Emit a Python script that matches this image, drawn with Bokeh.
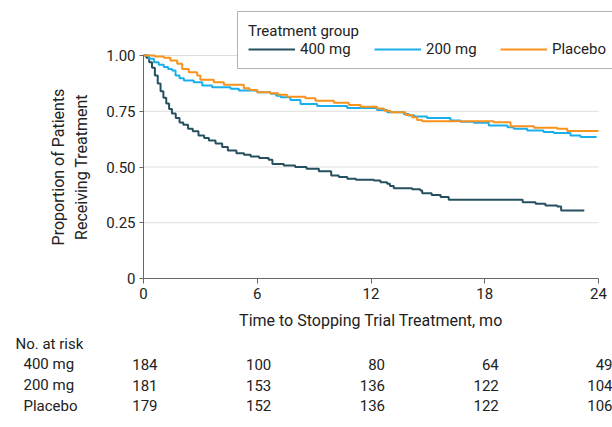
from bokeh.plotting import figure
from bokeh.models import Range1d, FixedTicker, Legend, LegendItem, ColumnDataSource
from bokeh.embed import file_html
from bokeh.resources import INLINE
from bokeh.core.properties import value

# ---- data ----
groups = ["400 mg", "200 mg", "Placebo"]
colors = ["#26505f", "#1aafeb", "#f7931e"]

t_400 = [0, 0.15, 0.3, 0.45, 0.6, 0.75, 0.9, 1.05, 1.2, 1.35, 1.5, 1.7, 1.9, 2.1, 2.35,
         2.6, 2.9, 3.2, 3.45, 3.8, 4.15, 4.45, 4.9, 5.3, 5.65, 6.1, 6.6, 6.8, 7.4, 8.0,
         8.6, 9.25, 9.9, 10.3, 10.75, 11.2, 12.15, 12.5, 12.85, 13.0, 13.2, 14.17, 14.6,
         14.7, 15.2, 15.67, 16.1, 20.0, 20.68, 21.2, 21.82, 22.03, 23.25]
s_400 = [1.0, 0.99, 0.97, 0.945, 0.91, 0.875, 0.84, 0.81, 0.785, 0.76, 0.74, 0.72, 0.70,
         0.69, 0.672, 0.66, 0.641, 0.63, 0.619, 0.605, 0.59, 0.574, 0.562, 0.555, 0.547,
         0.54, 0.532, 0.514, 0.507, 0.50, 0.492, 0.481, 0.462, 0.455, 0.447, 0.443, 0.439,
         0.432, 0.425, 0.415, 0.405, 0.40, 0.395, 0.382, 0.375, 0.365, 0.353, 0.342, 0.335,
         0.327, 0.323, 0.305, 0.305]

t_200 = [0, 0.3, 0.55, 0.8, 1.07, 1.3, 1.51, 1.69, 1.9, 2.13, 2.65, 3.1, 3.62, 4.59, 5.03,
         6.0, 6.7, 7.0, 7.23, 7.75, 8.28, 9.16, 10.74, 12.32, 12.85, 13.73, 13.99, 14.3,
         14.96, 16.19, 16.72, 17.42, 18.21, 19.2, 19.53, 20.24, 21.1, 21.64, 22.52, 23.05,
         23.9]
s_200 = [1.0, 0.985, 0.97, 0.958, 0.948, 0.94, 0.933, 0.91, 0.898, 0.888, 0.88, 0.865,
         0.858, 0.851, 0.843, 0.835, 0.828, 0.82, 0.813, 0.801, 0.783, 0.773, 0.765, 0.756,
         0.746, 0.738, 0.731, 0.726, 0.720, 0.708, 0.703, 0.698, 0.686, 0.678, 0.671, 0.664,
         0.657, 0.652, 0.641, 0.634, 0.634]

t_pl = [0, 0.6, 1.07, 1.42, 1.78, 2.04, 2.39, 2.83, 3.0, 3.71, 4.24, 5.29, 5.6, 6.0, 6.7,
        7.1, 7.58, 8.54, 9.07, 10.04, 10.83, 11.45, 12.32, 12.68, 13.03, 13.82, 14.17,
        14.43, 14.7, 18.48, 19.36, 20.6, 21.82, 22.35, 24.0]
s_pl = [1.0, 0.995, 0.99, 0.978, 0.963, 0.94, 0.925, 0.91, 0.891, 0.88, 0.869, 0.853, 0.845,
        0.835, 0.831, 0.824, 0.815, 0.808, 0.797, 0.788, 0.778, 0.770, 0.762, 0.752, 0.745,
        0.733, 0.723, 0.711, 0.705, 0.701, 0.683, 0.676, 0.671, 0.661, 0.661]

x_ticks = [0, 6, 12, 18, 24]
y_ticks = [0, 0.25, 0.5, 0.75, 1.0]
y_tick_labels = ["0", "0.25", "0.50", "0.75", "1.00"]
grid_ticks = [0.25, 0.5, 0.75, 1.0]

risk_times = [0, 6, 12, 18, 24]
risk_400 = [184, 100, 80, 64, 49]
risk_200 = [181, 153, 136, 122, 104]
risk_pl = [179, 152, 136, 122, 106]

FONT = "Roboto"
TXT = "#222222"
FS = "15px"
FS_AX = "16px"

# ---- layout geometry (pixels) ----
W, H = 612, 427
X0_PX, X24_PX = 143, 598       # where t=0 and t=24 fall
Y0_PX, Y1_PX = 278, 55         # where S=0 and S=1 fall
ppx = (X24_PX - X0_PX) / 24.0
ppy = (Y0_PX - Y1_PX) / 1.0
x_range = Range1d(-X0_PX / ppx, (W - X0_PX) / ppx)
y_range = Range1d(-(H - Y0_PX) / ppy, Y0_PX / ppy)

p = figure(width=W, height=H, x_range=x_range, y_range=y_range,
           output_backend="svg", toolbar_location=None, min_border=0)
p.outline_line_color = None
p.grid.visible = False

# horizontal grid lines limited to the data area
p.segment(x0=[0] * len(grid_ticks), x1=[24] * len(grid_ticks), y0=grid_ticks, y1=grid_ticks,
          line_color="#dddddd", line_width=1)

p.xaxis.fixed_location = 0
p.yaxis.fixed_location = 0
p.xaxis.bounds = (0, 24)
p.yaxis.bounds = (0, 1)
p.xaxis.ticker = FixedTicker(ticks=x_ticks)
p.yaxis.ticker = FixedTicker(ticks=y_ticks)
p.yaxis.major_label_overrides = {v: l for v, l in zip(y_ticks, y_tick_labels)}
for ax in (p.xaxis[0], p.yaxis[0]):
    ax.axis_line_color = "#666666"
    ax.major_tick_line_color = "#666666"
    ax.minor_tick_line_color = None
    ax.major_tick_in = 0
    ax.major_label_text_font = FONT
    ax.major_label_text_font_size = FS
    ax.major_label_text_color = TXT
    ax.axis_label_text_font = FONT
    ax.axis_label_text_font_size = FS_AX
    ax.axis_label_text_font_style = "normal"
    ax.axis_label_text_color = TXT
p.xaxis.major_tick_out = 5
p.yaxis.major_tick_out = 4
p.xaxis.major_label_standoff = 4
p.yaxis.major_label_standoff = 4
p.xaxis.axis_label = "Time to Stopping Trial Treatment, mo"
p.xaxis.axis_label_standoff = 9
p.yaxis.axis_label = "Proportion of Patients\nReceiving Treatment"
p.yaxis.axis_label_standoff = 12

renderers = []
for t, s, c in zip([t_400, t_200, t_pl], [s_400, s_200, s_pl], colors):
    r = p.step(x=t, y=s, mode="after", line_color=c, line_width=2)
    renderers.append(r)

legend = Legend(items=[LegendItem(label=g, renderers=[r]) for g, r in zip(groups, renderers)],
                title="Treatment group", orientation="horizontal",
                location=(237, H - 69))
legend.title_text_font = FONT
legend.title_text_font_size = FS
legend.title_text_font_style = "normal"
legend.title_text_color = TXT
legend.title_standoff = 0
legend.label_text_font = FONT
legend.label_text_font_size = FS
legend.label_text_color = TXT
legend.glyph_width = 47
legend.glyph_height = 14
legend.label_standoff = 5
legend.label_width = 60
legend.spacing = 14
legend.padding = 10
legend.margin = 0
legend.border_line_color = "#666666"
legend.border_line_width = 1.3
legend.background_fill_alpha = 1
p.add_layout(legend)

# ---- number at risk table (below the x axis) ----
ROW0 = 65      # px below the x axis for the header row
ROW_H = 20.8
xs, ys, txt, offs = [], [], [], []
for i, (g, vals) in enumerate(zip(groups, [risk_400, risk_200, risk_pl])):
    for tt, v in zip(risk_times, vals):
        xs.append(tt)
        ys.append(0)
        txt.append(str(v))
        offs.append(ROW0 + (i + 1) * ROW_H)
src = ColumnDataSource(dict(x=xs, y=ys, text=txt, yo=offs))
p.text(x="x", y="y", text="text", source=src, text_align="right", text_baseline="middle",
       x_offset=14, y_offset="yo", text_font=value(FONT), text_font_size=FS, text_color=TXT)

lab_src = ColumnDataSource(dict(x=[0] * 3, y=[0] * 3, text=groups,
                                yo=[ROW0 + (i + 1) * ROW_H for i in range(3)]))
p.text(x="x", y="y", text="text", source=lab_src, text_align="left", text_baseline="middle",
       x_offset=23 - X0_PX, y_offset="yo", text_font=value(FONT), text_font_size=FS,
       text_color=TXT)
p.text(x=[0], y=[0], text=["No. at risk"], text_align="left", text_baseline="middle",
       x_offset=15 - X0_PX, y_offset=ROW0, text_font=value(FONT), text_font_size=FS,
       text_color=TXT)

open("out.html", "w").write(file_html(p, INLINE))
